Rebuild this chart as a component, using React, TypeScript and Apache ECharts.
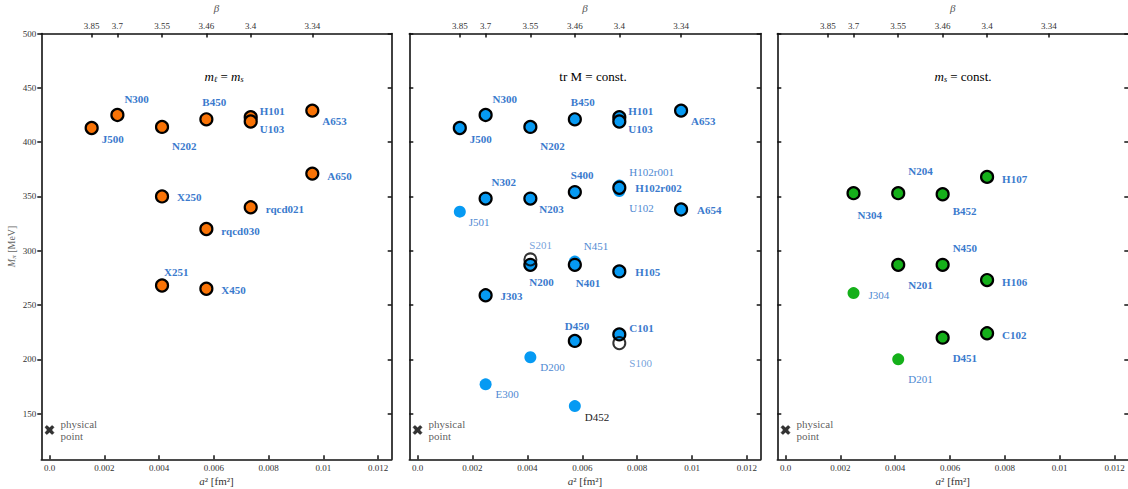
import React, { useEffect, useRef } from "react";
import * as echarts from "echarts";

// ---- data ----
const betaLabels = ["3.85", "3.7", "3.55", "3.46", "3.4", "3.34"];
const betaA2 = [0.00154, 0.00248, 0.00411, 0.00573, 0.00735, 0.0096];
const xTicks = [0, 0.002, 0.004, 0.006, 0.008, 0.01, 0.012];
const yTicks = [150, 200, 250, 300, 350, 400, 450, 500];

// panel 1: m_l = m_s (orange)
const p1Names = ["J500", "N300", "N202", "B450", "H101", "U103", "A653", "A650", "X250", "rqcd021", "rqcd030", "X251", "X450"];
const p1A2 = [0.00154, 0.00248, 0.00411, 0.00573, 0.00735, 0.00735, 0.0096, 0.0096, 0.00411, 0.00735, 0.00573, 0.00411, 0.00573];
const p1Mpi = [413, 425, 414, 421, 423, 419, 429, 371, 350, 340, 320, 268, 265];

// panel 2: tr M = const. (blue)
const p2Names = ["J500", "N300", "N202", "B450", "H101", "U103", "A653", "N302", "N203", "S400", "H102r002", "A654", "N200", "N401", "H105", "J303", "D450", "C101"];
const p2A2 = [0.00154, 0.00248, 0.00411, 0.00573, 0.00735, 0.00735, 0.0096, 0.00248, 0.00411, 0.00573, 0.00735, 0.0096, 0.00411, 0.00573, 0.00735, 0.00248, 0.00573, 0.00735];
const p2Mpi = [413, 425, 414, 421, 423, 419, 429, 348, 348, 354, 358, 338, 287, 287, 281, 259, 217, 223];
const p2LightNames = ["J501", "H102r001", "U102", "N451", "D200", "E300", "D452"];
const p2LightA2 = [0.00154, 0.00735, 0.00735, 0.00573, 0.00411, 0.00248, 0.00573];
const p2LightMpi = [336, 360, 355, 290, 202, 177, 157];
const p2OpenNames = ["S201", "S100"];
const p2OpenA2 = [0.00411, 0.00735];
const p2OpenMpi = [292, 215];

// panel 3: m_s = const. (green)
const p3Names = ["N304", "N204", "B452", "H107", "N201", "N450", "H106", "D451", "C102"];
const p3A2 = [0.00248, 0.00411, 0.00573, 0.00735, 0.00411, 0.00573, 0.00735, 0.00573, 0.00735];
const p3Mpi = [353, 353, 352, 368, 287, 287, 273, 220, 224];
const p3LightNames = ["J304", "D201"];
const p3LightA2 = [0.00248, 0.00411];
const p3LightMpi = [261, 200];

const physA2 = [0];
const physMpi = [135];

// ---- label placement (pixels: dx to left edge, dy to centre) ----
const labelOffsets: Record<string, [number, number]> = {
  J500: [10, 11], N300: [7, -16], N202: [10, 19], B450: [-4, -17], H101: [9, -6], U103: [9, 8],
  A653: [10, 10], A650: [15, 2], X250: [15, 1], rqcd021: [15, 2], rqcd030: [15, 2], X251: [2, -14], X450: [15, 1],
  N302: [6, -17], N203: [9, 10], S400: [-4, -17], H102r002: [16, 0], A654: [16, 1], N200: [-1, 17], N401: [1, 18],
  H105: [16, 1], J303: [15, 1], D450: [-10, -15], C101: [10, -6],
  J501: [9, 10], H102r001: [10, -14], U102: [10, 17], N451: [9, -16], D200: [10, 10], E300: [10, 10], D452: [10, 11],
  S201: [-1, -14], S100: [10, 20],
  N304: [4, 22], N204: [10, -22], B452: [10, 17], H107: [15, 2], N201: [10, 20], N450: [10, -17], H106: [15, 2],
  D451: [10, 20], C102: [15, 2], J304: [15, 2], D201: [10, 20],
};

const FONT = "'Liberation Serif', 'DejaVu Serif', serif";
const ORANGE = "#f97306";
const BLUE = "#069af3";
const GREEN = "#15b01a";
const LBL_BOLD = "#3a7acd";
const LBL_LIGHT = "#5089d2";

const grids = [
  { left: 41.3, top: 33.5, width: 350.4, height: 425.8, outerBoundsMode: "none", containLabel: false },
  { left: 409.3, top: 33.5, width: 351.4, height: 425.8, outerBoundsMode: "none", containLabel: false },
  { left: 777.3, top: 33.5, width: 351, height: 425.8, outerBoundsMode: "none", containLabel: false },
];
const titles = [
  { x: 224, text: "{i|m}{sub|ℓ}{n| = }{i|m}{sub|s}" },
  { x: 593, text: "{n|tr M = const.}" },
  { x: 963, text: "{i|m}{sub|s}{n| = const.}" },
];
const richMath = {
  i: { fontFamily: FONT, fontStyle: "italic", fontSize: 13, color: "#333" },
  n: { fontFamily: FONT, fontSize: 13, color: "#333" },
  sub: { fontFamily: FONT, fontStyle: "italic", fontSize: 8, color: "#333", padding: [7, 0, 0, 0] },
};

function makeItems(names: string[], a2: number[], m: number[], bold: boolean, color?: string) {
  return names.map((n, k) => {
    const off = labelOffsets[n] || [10, 0];
    return {
      name: n,
      value: [a2[k], m[k]],
      label: {
        show: true,
        position: "inside",
        align: "left",
        verticalAlign: "middle",
        offset: off,
        formatter: n,
        fontFamily: FONT,
        fontSize: 11,
        fontWeight: bold ? "bold" : "normal",
        color: color || (bold ? LBL_BOLD : LBL_LIGHT),
      },
    };
  });
}

function scatter(panel: number, data: any[], fill: string, border: boolean, open = false) {
  return {
    type: "scatter",
    xAxisIndex: panel * 2,
    yAxisIndex: panel * 2,
    symbol: "circle",
    symbolSize: 12,
    itemStyle: open
      ? { color: "rgba(0,0,0,0)", borderColor: "#000", borderWidth: 2 }
      : border
      ? { color: fill, borderColor: "#000", borderWidth: 2.2, opacity: 1 }
      : { color: fill, borderWidth: 0, opacity: 1 },
    emphasis: { disabled: true },
    data,
  };
}

const crossPath = "path://M2,0 L5,2.6 L8,0 L10,2 L7.4,5 L10,8 L8,10 L5,7.4 L2,10 L0,8 L2.6,5 L0,2 Z";

export default function App() {
  const ref = useRef<HTMLDivElement>(null);
  useEffect(() => {
    if (!ref.current) return;
    const chart = echarts.init(ref.current, undefined, { renderer: "svg" });
    const xAxes: any[] = [];
    const yAxes: any[] = [];
    grids.forEach((g, i) => {
      xAxes.push({
        gridIndex: i,
        type: "value",
        position: "bottom",
        min: -0.0003,
        max: 0.0125,
        axisLine: { show: true, onZero: false, lineStyle: { color: "#111", width: 1.6 } },
        axisTick: { show: true, inside: true, length: 4, customValues: xTicks, lineStyle: { color: "#111", width: 1.5 } },
        axisLabel: {
          customValues: xTicks,
          formatter: (v: number) => (v === 0 ? "0.0" : String(parseFloat(v.toFixed(4)))),
          fontFamily: FONT,
          fontSize: 9,
          color: "#333",
          margin: 4,
        },
        splitLine: { show: false },
        name: "{i|a}{n|² [fm²]}",
        nameLocation: "middle",
        nameGap: 16,
        nameMoveOverlap: false,
        nameTextStyle: {
          rich: {
            i: { fontFamily: FONT, fontStyle: "italic", fontSize: 11, color: "#333" },
            n: { fontFamily: FONT, fontSize: 11, color: "#333" },
          },
        },
      });
      xAxes.push({
        gridIndex: i,
        type: "value",
        position: "top",
        min: -0.0003,
        max: 0.0125,
        axisLine: { show: true, onZero: false, lineStyle: { color: "#111", width: 1.6 } },
        axisTick: { show: true, inside: true, length: 4, customValues: betaA2, lineStyle: { color: "#111", width: 1.5 } },
        axisLabel: {
          customValues: betaA2,
          formatter: (v: number) => {
            let best = 0;
            betaA2.forEach((b, k) => {
              if (Math.abs(b - v) < Math.abs(betaA2[best] - v)) best = k;
            });
            return betaLabels[best];
          },
          fontFamily: FONT,
          fontSize: 9,
          color: "#333",
          margin: 3,
        },
        splitLine: { show: false },
        name: "β",
        nameLocation: "middle",
        nameGap: 20,
        nameMoveOverlap: false,
        nameTextStyle: { fontFamily: FONT, fontStyle: "italic", fontSize: 11, color: "#555" },
      });
      yAxes.push({
        gridIndex: i,
        type: "value",
        position: "left",
        min: 108,
        max: 500,
        axisLine: { show: true, onZero: false, lineStyle: { color: "#111", width: 1.6 } },
        axisTick: { show: true, inside: i !== 0, length: 4, customValues: yTicks, lineStyle: { color: "#111", width: 1.5 } },
        axisLabel: {
          show: i === 0,
          customValues: yTicks,
          fontFamily: FONT,
          fontSize: 9,
          color: "#333",
          margin: 5,
        },
        splitLine: { show: false },
        name: i === 0 ? "{i|M}{sub|π}{n| [MeV]}" : "",
        nameLocation: "middle",
        nameGap: 24,
        nameMoveOverlap: false,
        nameTextStyle: {
          rich: {
            i: { fontFamily: FONT, fontStyle: "italic", fontSize: 10, color: "#666" },
            sub: { fontFamily: FONT, fontStyle: "italic", fontSize: 7, color: "#666", padding: [5, 0, 0, 0] },
            n: { fontFamily: FONT, fontSize: 10, color: "#666" },
          },
        },
      });
      yAxes.push({
        gridIndex: i,
        type: "value",
        position: "right",
        min: 108,
        max: 500,
        axisLine: { show: true, onZero: false, lineStyle: { color: "#111", width: 1.6 } },
        axisTick: { show: true, inside: true, length: 4, customValues: yTicks, lineStyle: { color: "#111", width: 1.5 } },
        axisLabel: { show: false },
        splitLine: { show: false },
      });
    });

    const series: any[] = [];
    // panel 1
    series.push(scatter(0, makeItems(p1Names, p1A2, p1Mpi, true), ORANGE, true));
    // panel 2
    series.push(scatter(1, makeItems(p2LightNames, p2LightA2, p2LightMpi, false).map((d) =>
      d.name === "D452" ? { ...d, label: { ...d.label, color: "#222" } } : d
    ), BLUE, false));
    series.push(scatter(1, makeItems(p2Names, p2A2, p2Mpi, true), BLUE, true));
    series.push(scatter(1, makeItems(p2OpenNames, p2OpenA2, p2OpenMpi, false), BLUE, false, true));
    // panel 3
    series.push(scatter(2, makeItems(p3LightNames, p3LightA2, p3LightMpi, false), GREEN, false));
    series.push(scatter(2, makeItems(p3Names, p3A2, p3Mpi, true), GREEN, true));
    // physical point
    [0, 1, 2].forEach((p) => {
      series.push({
        type: "scatter",
        xAxisIndex: p * 2,
        yAxisIndex: p * 2,
        symbol: crossPath,
        symbolSize: 9,
        itemStyle: { color: "#000", borderColor: "#000", borderWidth: 0.6 },
        emphasis: { disabled: true },
        data: physA2.map((a, k) => ({
          value: [a, physMpi[k]],
          label: {
            show: true,
            position: "inside",
            align: "left",
            verticalAlign: "middle",
            offset: [11, 0],
            formatter: "physical\npoint",
            fontFamily: FONT,
            fontSize: 11,
            lineHeight: 12,
            color: "#333",
          },
        })),
      });
    });

    chart.setOption({
      animation: false,
      backgroundColor: "#fff",
      grid: grids,
      xAxis: xAxes,
      yAxis: yAxes,
      series,
      graphic: titles.map((t) => ({
        type: "text",
        x: t.x,
        y: 76,
        style: { text: t.text, rich: richMath, align: "center", verticalAlign: "middle" },
      })),
    });
    return () => chart.dispose();
  }, []);
  return <div ref={ref} style={{ position: "absolute", left: 0, top: 0, width: 1128, height: 489 }} />;
}
